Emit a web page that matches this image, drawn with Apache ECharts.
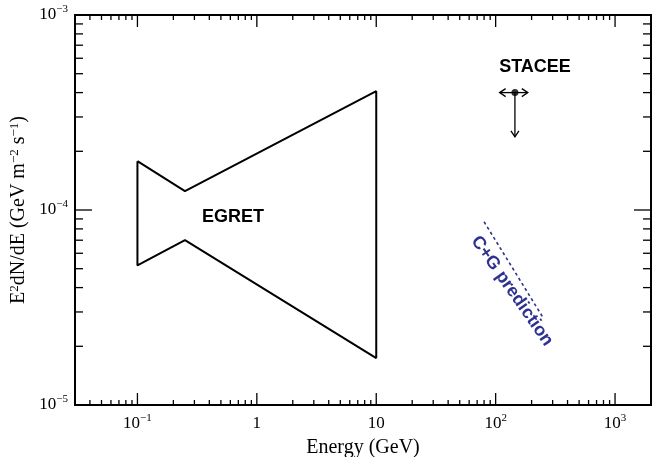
<!DOCTYPE html>
<html><head><meta charset="utf-8">
<script src="https://cdn.jsdelivr.net/npm/echarts@6/dist/echarts.min.js"></script>
<style>html,body{margin:0;padding:0;background:#fff}#c{width:660px;height:457px}</style>
</head><body><div id="c"></div>
<script>
// ---- data ----
const xMin = 0.03, xMax = 2000;
const yMin = 1e-5, yMax = 1e-3;
const xLabelValues = [0.1, 1, 10, 100, 1000];
const yLabelValues = [1e-5, 1e-4, 1e-3];
const xMajorTicks = [0.1, 1, 10, 100, 1000];
const xMinorTicks = [0.04,0.05,0.06,0.07,0.08,0.09,
  0.2,0.3,0.4,0.5,0.6,0.7,0.8,0.9,
  2,3,4,5,6,7,8,9,
  20,30,40,50,60,70,80,90,
  200,300,400,500,600,700,800,900];
const yMajorTicks = [1e-4];
const yMinorTicks = [2e-5,3e-5,4e-5,5e-5,6e-5,7e-5,8e-5,9e-5,
  2e-4,3e-4,4e-4,5e-4,6e-4,7e-4,8e-4,9e-4];

// EGRET bow-tie (closed polygon)
const egretE    = [0.1,     0.25,    10,      10,      0.25,   0.1,    0.1];
const egretFlux = [1.78e-4, 1.25e-4, 4.07e-4, 1.74e-5, 7.0e-5, 5.2e-5, 1.78e-4];

// STACEE point with energy range and upper-limit arrow
const staceeE = [145];
const staceeFlux = [4.0e-4];
const staceeELow = [108];
const staceeEHigh = [186];
const staceeLimitEnd = [2.37e-4];

// C+G prediction
const cgE = [80, 250];
const cgFlux = [8.7e-5, 2.8e-5];

// ---- chart ----
const serif = "'Liberation Serif','Times New Roman',serif";
const sans = "'Liberation Sans',Arial,sans-serif";
const supRich = {
  b: {fontSize: 17, fontFamily: serif, color: '#000', lineHeight: 22},
  s: {fontSize: 11, fontFamily: serif, color: '#000', verticalAlign: 'top', lineHeight: 11}
};
function powLabel(v) {
  const e = Math.log10(v);
  const r = Math.round(e);
  if (Math.abs(e - r) > 1e-6) return '';
  if (r === 0) return '{b|1}';
  if (r === 1) return '{b|10}';
  return '{b|10}{s|' + (r < 0 ? '\u2212' : '') + Math.abs(r) + '}';
}

const tickData = [];
xMajorTicks.forEach(v => tickData.push([v, 1e-4, 0, 1]));
xMinorTicks.forEach(v => tickData.push([v, 1e-4, 0, 0]));
yMajorTicks.forEach(v => tickData.push([1, v, 1, 1]));
yMinorTicks.forEach(v => tickData.push([1, v, 1, 0]));

function renderTick(params, api) {
  const cs = params.coordSys;
  const isY = api.value(2) === 1;
  const major = api.value(3) === 1;
  const p = api.coord([api.value(0), api.value(1)]);
  const st = {stroke: '#000', lineWidth: 1.3};
  if (!isY) {
    const len = major ? 12 : 5;
    return {type: 'group', children: [
      {type: 'line', shape: {x1: p[0], y1: cs.y + cs.height, x2: p[0], y2: cs.y + cs.height - len}, style: st},
      {type: 'line', shape: {x1: p[0], y1: cs.y, x2: p[0], y2: cs.y + len}, style: st}
    ]};
  } else {
    const len = major ? 17 : 8;
    return {type: 'group', children: [
      {type: 'line', shape: {x1: cs.x, y1: p[1], x2: cs.x + len, y2: p[1]}, style: st},
      {type: 'line', shape: {x1: cs.x + cs.width, y1: p[1], x2: cs.x + cs.width - len, y2: p[1]}, style: st}
    ]};
  }
}

function arrowShapes(from, to) {
  const dx = to[0] - from[0], dy = to[1] - from[1];
  const L = Math.sqrt(dx*dx + dy*dy);
  const ux = dx / L, uy = dy / L;
  const px = -uy, py = ux;
  const hl = 6, hw = 4;
  const st = {stroke: '#000', lineWidth: 1.3, fill: 'none'};
  return [
    {type: 'line', shape: {x1: from[0], y1: from[1], x2: to[0], y2: to[1]}, style: st},
    {type: 'polyline', shape: {points: [
      [to[0] - hl*ux + hw*px, to[1] - hl*uy + hw*py],
      [to[0], to[1]],
      [to[0] - hl*ux - hw*px, to[1] - hl*uy - hw*py]
    ]}, style: st}
  ];
}
function renderStacee(params, api) {
  const y = api.value(1);
  const p = api.coord([api.value(0), y]);
  const pl = api.coord([api.value(2), y]);
  const pr = api.coord([api.value(3), y]);
  const pd = api.coord([api.value(0), api.value(4)]);
  return {type: 'group', children: [].concat(arrowShapes(p, pl), arrowShapes(p, pr), arrowShapes(p, pd))};
}

const chart = echarts.init(document.getElementById('c'));
chart.setOption({
  animation: false,
  backgroundColor: '#fff',
  grid: {left: 75, right: 9, top: 15, bottom: 52, show: true, borderColor: '#000', borderWidth: 2,
         containLabel: false, outerBoundsMode: 'none'},
  xAxis: {
    type: 'log', logBase: 10, min: xMin, max: xMax,
    axisLine: {show: false}, axisTick: {show: false}, splitLine: {show: false}, minorTick: {show: false},
    axisLabel: {customValues: xLabelValues, formatter: powLabel, margin: 8, color: '#000', fontFamily: serif, fontSize: 17, rich: supRich},
    name: 'Energy (GeV)', nameLocation: 'middle', nameGap: 32,
    nameTextStyle: {fontFamily: serif, fontSize: 20, color: '#000'}
  },
  yAxis: {
    type: 'log', logBase: 10, min: yMin, max: yMax,
    axisLine: {show: false}, axisTick: {show: false}, splitLine: {show: false}, minorTick: {show: false},
    axisLabel: {customValues: yLabelValues, formatter: powLabel, margin: 7, color: '#000', fontFamily: serif, fontSize: 17, rich: supRich},
    name: 'E{s|2}dN/dE (GeV m{s|\u22122} s{s|\u22121})', nameLocation: 'middle', nameGap: 37, nameRotate: 90,
    nameTextStyle: {fontFamily: serif, fontSize: 20, color: '#000', rich: {
      s: {fontSize: 13, fontFamily: serif, color: '#000', verticalAlign: 'top', lineHeight: 13}
    }}
  },
  series: [
    {type: 'custom', renderItem: renderTick, data: tickData, silent: true, z: 5},
    {type: 'line', data: egretE.map((e, i) => [e, egretFlux[i]]), showSymbol: false, symbol: 'none',
     lineStyle: {color: '#000', width: 2}, z: 3},
    {type: 'line', data: cgE.map((e, i) => [e, cgFlux[i]]), showSymbol: false, symbol: 'none',
     lineStyle: {color: '#2e3192', width: 1.6, type: [3, 3]}, z: 3},
    {type: 'custom', renderItem: renderStacee,
     data: [[staceeE[0], staceeFlux[0], staceeELow[0], staceeEHigh[0], staceeLimitEnd[0]]], z: 3},
    {type: 'scatter', data: staceeE.map((e, i) => [e, staceeFlux[i]]), symbol: 'circle', symbolSize: 7,
     itemStyle: {color: '#000'}, z: 4}
  ],
  graphic: [
    {type: 'text', x: 535, y: 67, style: {text: 'STACEE', font: 'bold 18px ' + sans, fill: '#000', align: 'center', verticalAlign: 'middle'}},
    {type: 'text', x: 233, y: 217, style: {text: 'EGRET', font: 'bold 18px ' + sans, fill: '#000', align: 'center', verticalAlign: 'middle'}},
    {type: 'text', x: 512, y: 291, rotation: -55 * Math.PI / 180,
     style: {text: 'C+G prediction', font: 'bold 18px ' + sans, fill: '#2e3192', align: 'center', verticalAlign: 'middle'}}
  ]
});
</script>
</body></html>
